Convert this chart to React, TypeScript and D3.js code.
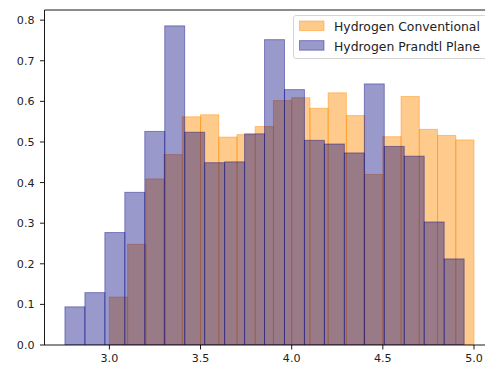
import React from "react";
import * as d3 from "d3";

const conventionalStart = 3.0;
const conventionalEnd = 5.0;
const conventionalDensity = [0.118, 0.248, 0.409, 0.469, 0.562, 0.567, 0.512, 0.518, 0.538, 0.602, 0.609, 0.583, 0.621, 0.565, 0.420, 0.513, 0.612, 0.531, 0.516, 0.505];

const prandtlStart = 2.756;
const prandtlEnd = 4.946;
const prandtlDensity = [0.094, 0.129, 0.277, 0.376, 0.526, 0.786, 0.524, 0.449, 0.451, 0.520, 0.752, 0.629, 0.504, 0.495, 0.473, 0.643, 0.489, 0.465, 0.303, 0.212];

const xTicks = [3.0, 3.5, 4.0, 4.5, 5.0];
const yTicks = [0.0, 0.1, 0.2, 0.3, 0.4, 0.5, 0.6, 0.7, 0.8];
const seriesNames = ["Hydrogen Conventional", "Hydrogen Prandtl Plane"];

const W = 485, H = 365;
const L = 44.5, R = 494.4, T = 10, B = 345;
const FONT = "DejaVu Sans, sans-serif";

function bins(start: number, end: number, vals: number[]) {
  const w = (end - start) / vals.length;
  return vals.map((v, i) => ({ x0: start + i * w, x1: start + (i + 1) * w, v }));
}

export default function App() {
  const x = d3.scaleLinear().domain([2.644, 5.112]).range([L, R]);
  const y = d3.scaleLinear().domain([0, 0.825]).range([B, T]);
  const conv = bins(conventionalStart, conventionalEnd, conventionalDensity);
  const pran = bins(prandtlStart, prandtlEnd, prandtlDensity);
  const series = [
    { data: conv, color: "darkorange", op: 0.45, name: seriesNames[0] },
    { data: pran, color: "navy", op: 0.4, name: seriesNames[1] },
  ];
  return (
    <svg width={W} height={H} style={{ position: "absolute", left: 0, top: 0, background: "#fff" }} fontFamily={FONT}>
      <defs>
        <clipPath id="ax">
          <rect x={L} y={T} width={R - L} height={B - T} />
        </clipPath>
      </defs>
      <g clipPath="url(#ax)">
        {series.map((s, si) => (
          <g key={si}>
            {s.data.map((d, i) => (
              <rect
                key={i}
                x={x(d.x0)}
                y={y(d.v)}
                width={x(d.x1) - x(d.x0)}
                height={y(0) - y(d.v)}
                fill={s.color}
                fillOpacity={s.op}
                stroke={s.color}
                strokeOpacity={s.op}
                strokeWidth={1}
              />
            ))}
          </g>
        ))}
      </g>
      {/* spines */}
      <line x1={L} x2={L} y1={T} y2={B} stroke="#000" strokeWidth={0.9} />
      <line x1={L} x2={R} y1={B} y2={B} stroke="#000" strokeWidth={0.9} />
      <line x1={L} x2={R} y1={T} y2={T} stroke="#000" strokeWidth={0.9} />
      <line x1={R} x2={R} y1={T} y2={B} stroke="#000" strokeWidth={0.9} />
      {/* y ticks */}
      {yTicks.map((t) => (
        <g key={"y" + t}>
          <line x1={L - 4.5} x2={L} y1={y(t)} y2={y(t)} stroke="#000" strokeWidth={0.9} />
          <text x={L - 10} y={y(t)} dy="0.36em" textAnchor="end" fontSize={11.1} fill="#222">
            {d3.format(".1f")(t)}
          </text>
        </g>
      ))}
      {/* x ticks */}
      {xTicks.map((t) => (
        <g key={"x" + t}>
          <line x1={x(t)} x2={x(t)} y1={B} y2={B + 4.5} stroke="#000" strokeWidth={0.9} />
          <text x={x(t)} y={B + 17} textAnchor="middle" fontSize={11.1} fill="#222">
            {d3.format(".1f")(t)}
          </text>
        </g>
      ))}
      {/* legend */}
      <rect x={293.5} y={15.5} width={200} height={43} rx={2.5} fill="#fff" fillOpacity={0.8} stroke="#d0d0d0" strokeWidth={0.9} />
      {series.map((s, i) => (
        <g key={"lg" + i}>
          <rect x={299.5} y={21 + i * 19.6} width={24.5} height={9.6} fill={s.color} fillOpacity={s.op} stroke={s.color} strokeOpacity={s.op} strokeWidth={1} />
          <text x={334} y={30.8 + i * 19.8} fontSize={12.4} fill="#222">
            {s.name}
          </text>
        </g>
      ))}
    </svg>
  );
}
